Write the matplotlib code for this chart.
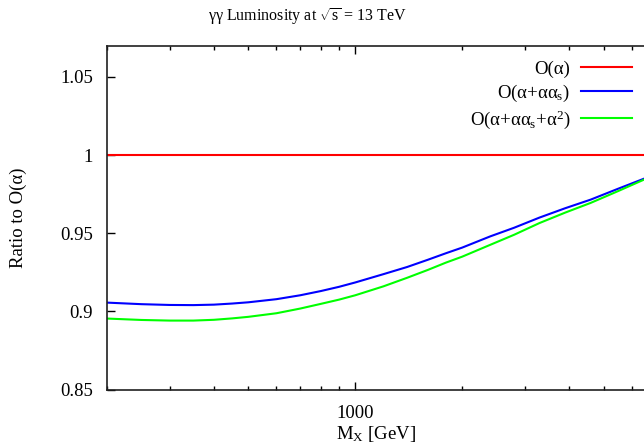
import numpy as np
import matplotlib
matplotlib.use("Agg")
import matplotlib.pyplot as plt
from matplotlib.ticker import FixedLocator, FixedFormatter, NullFormatter, LogLocator

plt.rcParams['font.family'] = ['Liberation Serif', 'DejaVu Serif']
plt.rcParams['mathtext.fontset'] = 'custom'
plt.rcParams['mathtext.rm'] = 'Liberation Serif'
plt.rcParams['mathtext.it'] = 'Liberation Serif:italic'
plt.rcParams['mathtext.bf'] = 'Liberation Serif:bold'

# values
mass = [200, 250, 300, 350, 400, 450, 500, 600, 700, 800, 900, 1000, 1200,
        1400, 1600, 1800, 2000, 2400, 2800, 3300, 3900, 4600, 5500, 6500]
nlo_qcd = [0.9056, 0.9046, 0.9041, 0.9040, 0.9043, 0.9050, 0.9058, 0.9078,
           0.9103, 0.9130, 0.9157, 0.9185, 0.9238, 0.9284, 0.9330, 0.9372,
           0.9408, 0.9480, 0.9535, 0.9600, 0.9660, 0.9715, 0.9785, 0.9849]
nnlo = [0.8954, 0.8945, 0.8941, 0.8941, 0.8946, 0.8955, 0.8965, 0.8988,
        0.9018, 0.9048, 0.9075, 0.9103, 0.9160, 0.9215, 0.9265, 0.9312,
        0.9350, 0.9426, 0.9490, 0.9565, 0.9632, 0.9694, 0.9770, 0.9843]
lo_x = [200, 6500]
lo_y = [1.0, 1.0]

labels = [r"O(α)", r"O(α+αα$_\mathrm{s}$)", r"O(α+αα$_\mathrm{s}$+α$^2$)"]
yticks = [0.85, 0.9, 0.95, 1.0, 1.05]
ytick_labels = ["0.85", "0.9", "0.95", "1", "1.05"]

fs = 13.5

fig = plt.figure(figsize=(6.44, 4.46), dpi=100)
ax = fig.add_axes([107 / 644, (446 - 389.5) / 446, 1 - 107 / 644, (389.5 - 45.7) / 446])

ax.plot(lo_x, lo_y, color='#ff0000', lw=1.5, label=labels[0])
ax.plot(mass, nlo_qcd, color='#0000ff', lw=1.5, label=labels[1])
ax.plot(mass, nnlo, color='#00ff00', lw=1.5, label=labels[2])

ax.set_xscale('log')
ax.set_xlim(200, 6500)
ax.set_ylim(0.85, 1.07)

ax.xaxis.set_major_locator(FixedLocator([1000]))
ax.xaxis.set_major_formatter(FixedFormatter(["1000"]))
ax.xaxis.set_minor_locator(LogLocator(base=10, subs=np.arange(2, 10)))
ax.xaxis.set_minor_formatter(NullFormatter())
ax.set_yticks(yticks)
ax.set_yticklabels(ytick_labels)

ax.tick_params(which='both', direction='in', top=True, right=False, labelsize=fs, colors='black')
ax.tick_params(which='major', length=6, width=1.0, pad=10)
ax.tick_params(axis='x', which='major', pad=11)
ax.tick_params(which='minor', length=3, width=1.0)
ax.tick_params(axis='y', which='minor', left=False)
ax.spines['right'].set_visible(False)
for s in ['left', 'top', 'bottom']:
    ax.spines[s].set_linewidth(1.2)
    ax.spines[s].set_color('#202020')

ax.set_xlabel(r"M$_\mathrm{X}$ [GeV]", fontsize=fs, labelpad=1.5)
ax.set_ylabel("Ratio to O(α)", fontsize=fs, labelpad=24)

fig.text(307 / 644, 1 - 17 / 446, r"γγ Luminosity at $\sqrt{\mathrm{s}}$ = 13 TeV",
         ha='center', va='center', fontsize=11.5)

ax.legend(loc='upper right', bbox_to_anchor=(0.978, 0.957), frameon=False,
          markerfirst=False, fontsize=fs, handlelength=2.75, handletextpad=0.55,
          labelspacing=0.25, borderaxespad=0, borderpad=0)

fig.savefig("out.png", dpi=100)
